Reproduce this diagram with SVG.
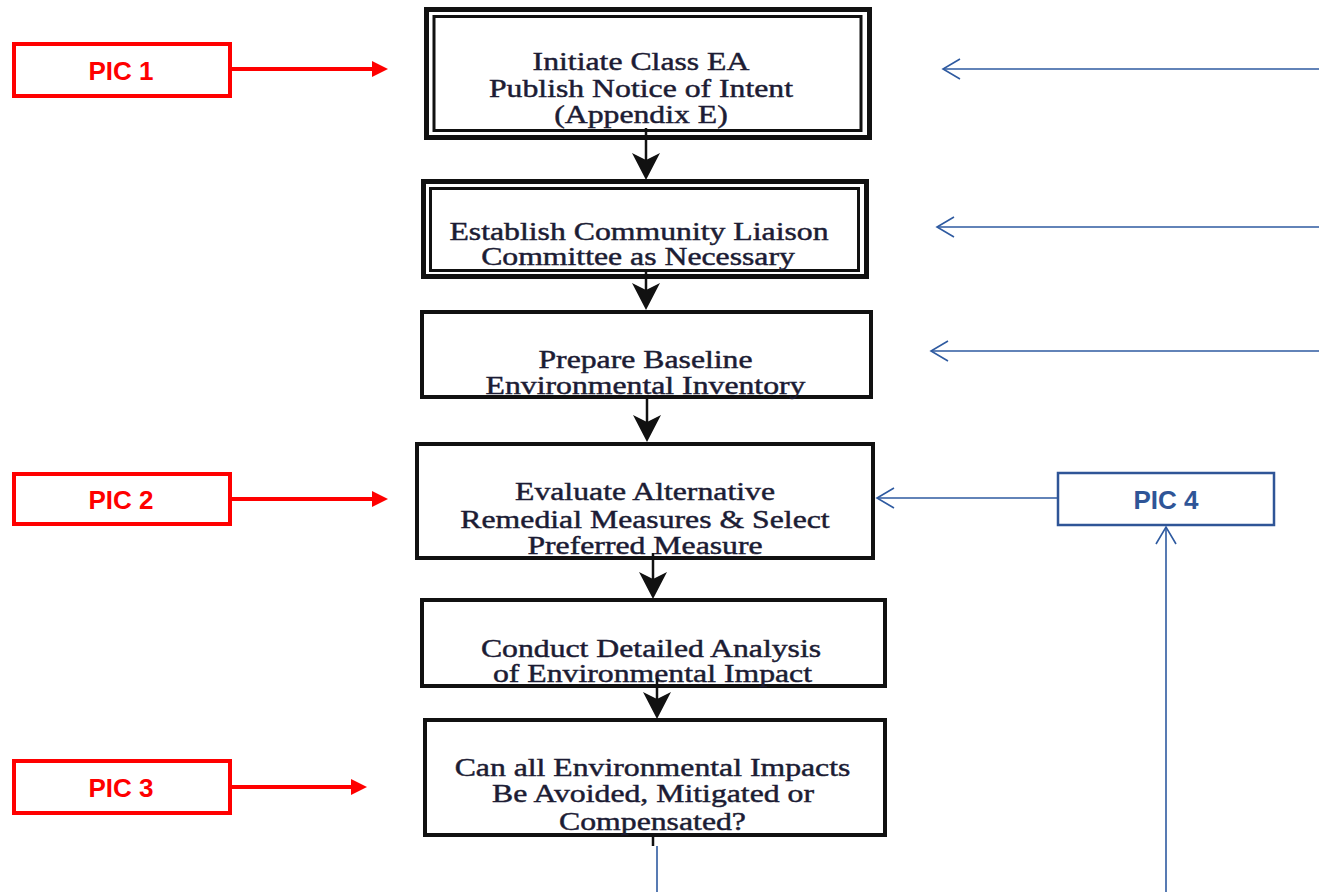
<svg xmlns="http://www.w3.org/2000/svg" width="1319" height="892" viewBox="0 0 1319 892">
<style>
.box{fill:#fff;stroke:#111;stroke-width:4}
.outer{fill:#fff;stroke:#111;stroke-width:5}
.inner{fill:none;stroke:#111;stroke-width:3}
.t{font-family:"Liberation Serif","Times New Roman",serif;font-size:25px;fill:#1c1c34;stroke:#1c1c34;stroke-width:0.45;text-anchor:middle}
.pic{fill:#fff;stroke:#ff0000;stroke-width:4}
.pict{font-family:"Liberation Sans",Arial,sans-serif;font-weight:bold;font-size:26px;fill:#ff0000;text-anchor:middle}
.pic4{fill:#fff;stroke:#2f5597;stroke-width:2.5}
.pic4t{font-family:"Liberation Sans",Arial,sans-serif;font-weight:bold;font-size:26px;fill:#2f5597;text-anchor:middle}
.bl{stroke:#111;stroke-width:2.5;fill:none}
.rl{stroke:#ff0000;stroke-width:4;fill:none}
.bu{stroke:#2e5aa0;stroke-width:1.6;fill:none}
</style>
<defs>
<path id="bh" d="M0,0 L-14,-27 L0,-20 L14,-27 Z" fill="#111"/>
<path id="rh" d="M0,0 L-16,-8 L-16,8 Z" fill="#ff0000"/>
<path id="uh" d="M17,-10 L0,0 L17,10" fill="none" stroke="#2e5aa0" stroke-width="1.6"/>
</defs>
<rect width="1319" height="892" fill="#fff"/>

<g id="n1">
<rect class="outer" x="426.5" y="9.5" width="443" height="128"/>
<rect class="inner" x="434" y="16.5" width="427" height="114"/>
<text class="t" transform="translate(641,0) scale(1.27,1)" x="0" y="70">Initiate Class EA</text>
<text class="t" transform="translate(641,0) scale(1.27,1)" x="0" y="97">Publish Notice of Intent</text>
<text class="t" transform="translate(641,0) scale(1.27,1)" x="0" y="123">(Appendix E)</text>
</g>
<g id="n2">
<rect class="outer" x="423.5" y="181.5" width="443" height="95"/>
<rect class="inner" x="430.5" y="188.5" width="428" height="82"/>
<text class="t" transform="translate(639,0) scale(1.27,1)" x="0" y="240">Establish Community Liaison</text>
<text class="t" transform="translate(638,0) scale(1.27,1)" x="0" y="265">Committee as Necessary</text>
</g>
<g id="n3">
<rect class="box" x="422" y="312" width="449" height="85"/>
<text class="t" transform="translate(645.5,0) scale(1.27,1)" x="0" y="368">Prepare Baseline</text>
<text class="t" transform="translate(645.5,0) scale(1.27,1)" x="0" y="394">Environmental Inventory</text>
</g>
<g id="n4">
<rect class="box" x="417" y="444" width="456" height="114"/>
<text class="t" transform="translate(645,0) scale(1.27,1)" x="0" y="500">Evaluate Alternative</text>
<text class="t" transform="translate(645,0) scale(1.27,1)" x="0" y="528">Remedial Measures &amp; Select</text>
<text class="t" transform="translate(645,0) scale(1.27,1)" x="0" y="554">Preferred Measure</text>
</g>
<g id="n5">
<rect class="box" x="422" y="600" width="463" height="86"/>
<text class="t" transform="translate(651,0) scale(1.27,1)" x="0" y="657">Conduct Detailed Analysis</text>
<text class="t" transform="translate(652.5,0) scale(1.27,1)" x="0" y="682">of Environmental Impact</text>
</g>
<g id="n6">
<rect class="box" x="425" y="720" width="460" height="115"/>
<text class="t" transform="translate(652.5,0) scale(1.27,1)" x="0" y="776">Can all Environmental Impacts</text>
<text class="t" transform="translate(653,0) scale(1.27,1)" x="0" y="802">Be Avoided, Mitigated or</text>
<text class="t" transform="translate(652.5,0) scale(1.27,1)" x="0" y="830">Compensated?</text>
</g>

<g id="pic1">
<rect class="pic" x="14" y="44" width="216" height="52"/>
<text class="pict" x="121" y="80">PIC 1</text>
</g>
<g id="pic2">
<rect class="pic" x="14" y="474" width="216" height="50"/>
<text class="pict" x="121" y="509">PIC 2</text>
</g>
<g id="pic3">
<rect class="pic" x="14" y="761" width="216" height="52"/>
<text class="pict" x="121" y="797">PIC 3</text>
</g>
<g id="pic4">
<rect class="pic4" x="1058" y="473" width="216" height="52"/>
<text class="pic4t" x="1166" y="509">PIC 4</text>
</g>

<g id="connectors">
<line class="bl" x1="646" y1="128" x2="646" y2="165"/>
<use href="#bh" transform="translate(646,180)"/>
<line class="bl" x1="646" y1="272" x2="646" y2="295"/>
<use href="#bh" transform="translate(646,310)"/>
<line class="bl" x1="647" y1="399" x2="647" y2="427"/>
<use href="#bh" transform="translate(647,442)"/>
<line class="bl" x1="653" y1="553" x2="653" y2="584"/>
<use href="#bh" transform="translate(653,599)"/>
<line class="bl" x1="657" y1="678" x2="657" y2="704"/>
<use href="#bh" transform="translate(657,719)"/>
<line class="bl" x1="653" y1="835" x2="653" y2="846"/>
<line class="bu" x1="657" y1="846" x2="657" y2="892"/>

<line class="rl" x1="230" y1="69" x2="375" y2="69"/>
<use href="#rh" transform="translate(388,69)"/>
<line class="rl" x1="230" y1="499" x2="375" y2="499"/>
<use href="#rh" transform="translate(388,499)"/>
<line class="rl" x1="230" y1="787" x2="353" y2="787"/>
<use href="#rh" transform="translate(367,787)"/>

<line class="bu" x1="944" y1="69" x2="1319" y2="69"/>
<use href="#uh" transform="translate(943,69)"/>
<line class="bu" x1="938" y1="227" x2="1319" y2="227"/>
<use href="#uh" transform="translate(937,227)"/>
<line class="bu" x1="932" y1="351" x2="1319" y2="351"/>
<use href="#uh" transform="translate(931,351)"/>
<line class="bu" x1="878" y1="498" x2="1057" y2="498"/>
<use href="#uh" transform="translate(877,498)"/>
<line class="bu" x1="1166" y1="528" x2="1166" y2="892"/>
<use href="#uh" transform="translate(1166,527) rotate(90)"/>
</g>
</svg>
